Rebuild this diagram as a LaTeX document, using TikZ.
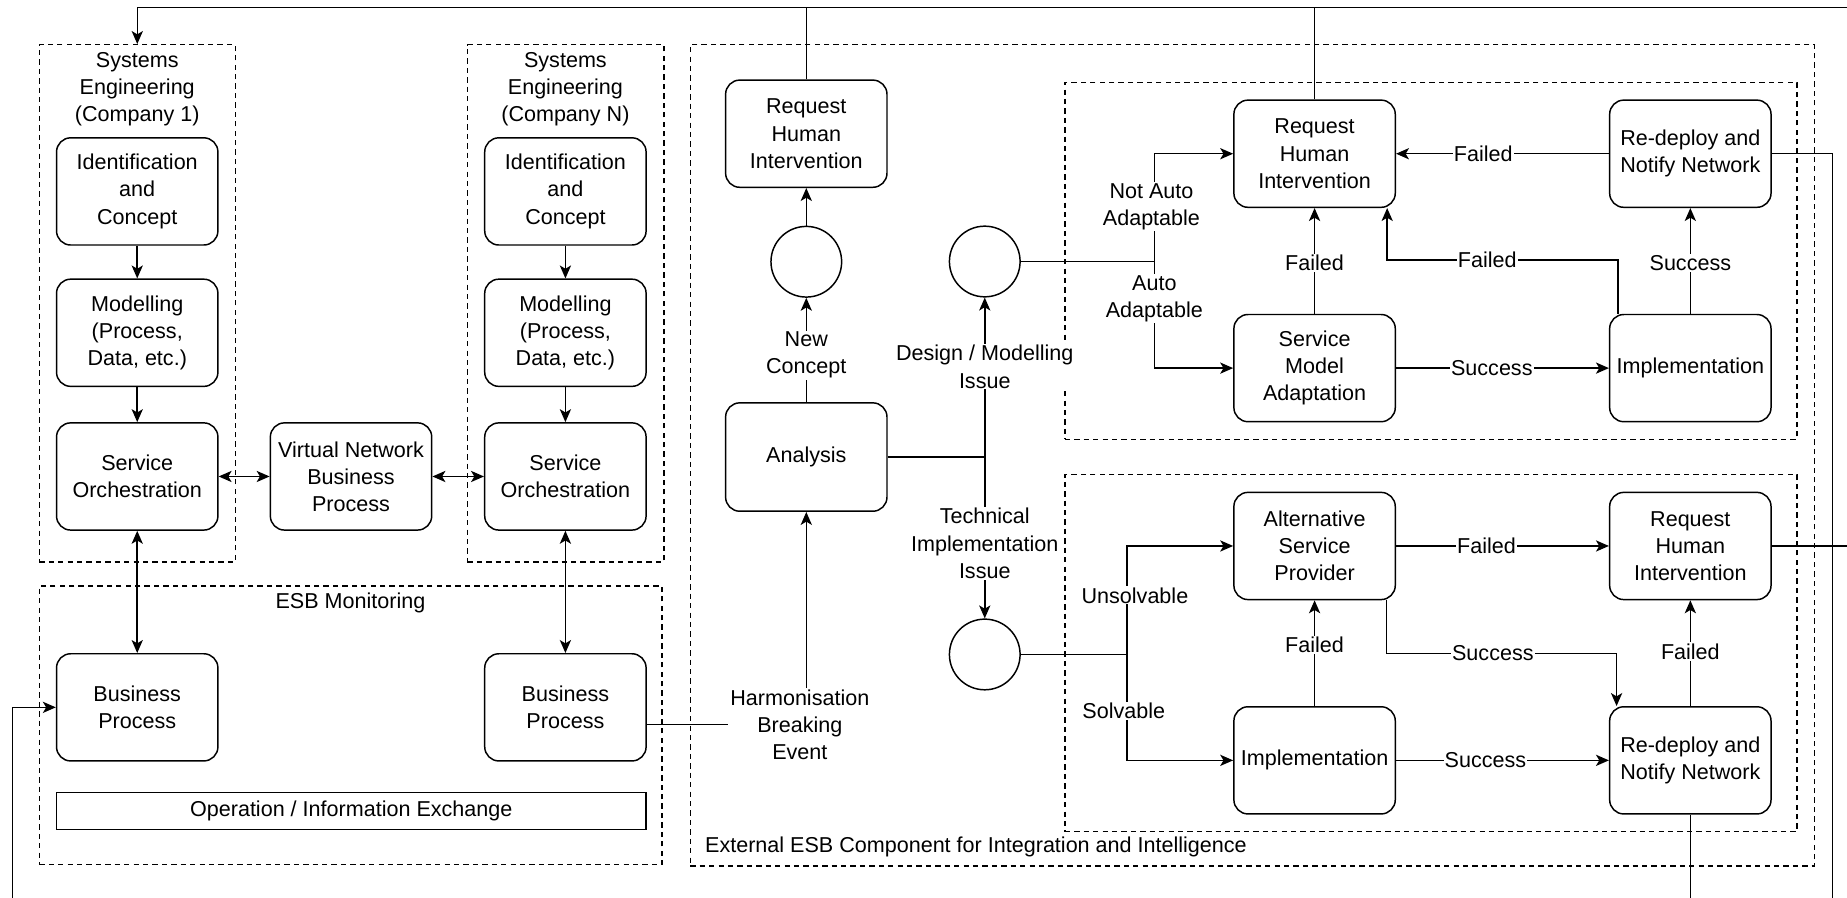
\documentclass[tikz,border=0pt]{standalone}
\usepackage{fontspec}
\setmainfont{Liberation Sans}
\usetikzlibrary{arrows.meta}
\begin{document}
\begin{tikzpicture}[x=1pt,y=-1pt,
  every node/.style={font=\fontsize{18.3}{23}\selectfont},
  line width=1.25pt,
  box/.style={draw, rounded corners=12pt, minimum width=137pt, minimum height=91pt, align=center, inner sep=1pt},
  plainbox/.style={draw, inner sep=0pt},
  circ/.style={draw, circle, minimum size=60pt, inner sep=0pt},
  cont/.style={draw, dash pattern=on 4.5pt off 3.5pt, inner sep=0pt},
  txt/.style={align=center, inner sep=1pt},
  lbl/.style={fill=white, align=center, inner sep=1pt},
  tip/.tip={Stealth[length=11pt,width=9.5pt,inset=2.8pt]},
  arr/.style={-tip},
  darr/.style={tip-tip}
]
\useasboundingbox (0,0) rectangle (1568,762);

% dashed containers
\node[cont, minimum width=166.3pt, minimum height=439pt] (SE1) at (116.55,257.5) {};
\node[cont, minimum width=166.7pt, minimum height=439pt] (SEN) at (480.15,257.5) {};
\node[cont, minimum width=528.6pt, minimum height=236.5pt] (ESB) at (297.7,615.75) {};
\node[cont, minimum width=954.5pt, minimum height=697pt] (EXT) at (1063.25,386.5) {};
\node[cont, minimum width=621.5pt, minimum height=303pt] (UPR) at (1214.75,221.5) {};
\node[cont, minimum width=621.5pt, minimum height=303pt] (LWR) at (1214.75,554.5) {};

% container titles
\node[txt] (SE1t) at (116.5,75.5) {Systems\\Engineering\\(Company 1)};
\node[txt] (SENt) at (480,75.5) {Systems\\Engineering\\(Company N)};
\node[txt] (ESBt) at (297.5,512) {ESB Monitoring};
\node[txt, anchor=west] (EXTt) at (597,719) {External ESB Component for Integration and Intelligence};

% company engineering columns
\node[box] (ID1) at (116.5,162.5) {Identification\\and\\Concept};
\node[box] (MOD1) at (116.5,282.5) {Modelling\\(Process,\\Data, etc.)};
\node[box] (SO1) at (116.5,404.5) {Service\\Orchestration};
\node[box] (IDN) at (480,162.5) {Identification\\and\\Concept};
\node[box] (MODN) at (480,282.5) {Modelling\\(Process,\\Data, etc.)};
\node[box] (SON) at (480,404.5) {Service\\Orchestration};
\node[box] (VNBP) at (298,404.5) {Virtual Network\\Business\\Process};

% monitoring
\node[box] (BP1) at (116.5,600.5) {Business\\Process};
\node[box] (BPN) at (480,600.5) {Business\\Process};
\node[plainbox, minimum width=500.4pt, minimum height=31pt] (OPX) at (298.2,688.5) {Operation / Information Exchange};

% external component
\node[box] (RHI0) at (684.5,113.5) {Request\\Human\\Intervention};
\node[circ] (C1) at (684.5,222.2) {};
\node[box, minimum height=92pt] (ANA) at (684.5,388) {Analysis};
\node[circ] (C2) at (836,222) {};
\node[circ] (C3) at (836,555.6) {};
\node[txt] (HBE) at (679,615) {Harmonisation\\Breaking\\Event};

\node[box] (RHI1) at (1116,130.5) {Request\\Human\\Intervention};
\node[box] (SMA) at (1116,312.5) {Service\\Model\\Adaptation};
\node[box] (RDN1) at (1435,130.5) {Re-deploy and\\Notify Network};
\node[box] (IMP1) at (1435,312.5) {Implementation};

\node[box] (ASP) at (1116,463.5) {Alternative\\Service\\Provider};
\node[box] (IMP2) at (1116,645.5) {Implementation};
\node[box] (RHI2) at (1435,463.5) {Request\\Human\\Intervention};
\node[box] (RDN2) at (1435,645.5) {Re-deploy and\\Notify Network};

% routing points
\coordinate (topR) at (1568,6.2);
\coordinate (botL) at (10.5,762);
\coordinate (botA) at (1555.7,762);
\coordinate (edgeR) at (1568,0);
\coordinate (bot) at (0,762);
\coordinate (jn) at (836,388);
\coordinate (br1) at (980,222);
\coordinate (br2) at (956.8,555.6);
\coordinate (fA) at (0,220.7);
\coordinate (sB) at (0,554.6);

% engineering flow
\draw[arr] (ID1) -- (MOD1);
\draw[arr] (MOD1) -- (SO1);
\draw[arr] (IDN) -- (MODN);
\draw[arr] (MODN) -- (SON);
\draw[darr] (SO1) -- (VNBP);
\draw[darr] (VNBP) -- (SON);
\draw[darr] (SO1) -- (BP1);
\draw[darr] (SON) -- (BPN);

% feedback loops around the picture
\draw[arr] (botL) |- (BP1.west);
\draw[arr] (topR) -| (SE1.north);
\draw (RHI0.north) -- (RHI0.north |- topR);
\draw (RHI1.north) -- (RHI1.north |- topR);
\draw (RDN1.east) -| (botA);
\draw (RHI2.east) -- (RHI2.east -| edgeR);
\draw (RDN2.south) -- (RDN2.south |- bot);

% harmonisation breaking event and analysis
\draw (BPN.east |- HBE.west) -- (HBE.west);
\draw[arr] (HBE.north -| ANA.south) -- (ANA.south);
\draw[arr] (C1) -- (RHI0);
\draw[arr] (ANA) -- node[lbl,pos=.45]{New\\Concept} (C1);
\draw (ANA.east) -- (jn);
\draw[arr] (jn) -- node[lbl,pos=.566]{Design / Modelling\\Issue} (C2.south);
\draw[arr] (jn) -- node[lbl,pos=.535]{Technical\\Implementation\\Issue} (C3.north);

% design / modelling branch
\draw (C2.east) -- (br1);
\draw[arr] (br1) -- node[lbl,pos=.51,xshift=-2.5pt]{Not Auto\\Adaptable} (br1 |- RHI1.west) -- (RHI1.west);
\draw[arr] (br1) -- node[lbl,pos=.35]{Auto\\Adaptable} (br1 |- SMA.west) -- (SMA.west);
\draw[arr] (SMA) -- node[lbl,pos=.48]{Failed} (RHI1);
\draw[arr] (SMA) -- node[lbl,pos=.45]{Success} (IMP1);
\draw[arr] ([xshift=7.5pt]IMP1.north west) |- node[lbl,pos=.783]{Failed} ([xshift=-7.5pt]RHI1.south east |- fA) -- ([xshift=-7.5pt]RHI1.south east);
\draw[arr] (IMP1) -- node[lbl,pos=.48]{Success} (RDN1);
\draw[arr] (RDN1) -- node[lbl,pos=.59]{Failed} (RHI1);

% technical implementation branch
\draw (C3.east) -- (br2);
\draw[arr] (br2) -- node[lbl,pos=.545,xshift=6.7pt]{Unsolvable} (br2 |- ASP.west) -- (ASP.west);
\draw[arr] (br2) -- node[lbl,pos=.535,xshift=-2.8pt]{Solvable} (br2 |- IMP2.west) -- (IMP2.west);
\draw[arr] (ASP) -- node[lbl,pos=.425]{Failed} (RHI2);
\draw[arr] (IMP2) -- node[lbl,pos=.576]{Failed} (ASP);
\draw[arr] ([xshift=-8pt]ASP.south east) |- node[lbl,pos=.731]{Success} ([xshift=6.5pt]RDN2.north west |- sB) -- ([xshift=6.5pt]RDN2.north west);
\draw[arr] (IMP2) -- node[lbl,pos=.42]{Success} (RDN2);
\draw[arr] (RDN2) -- node[lbl,pos=.516]{Failed} (RHI2);

\end{tikzpicture}
\end{document}
